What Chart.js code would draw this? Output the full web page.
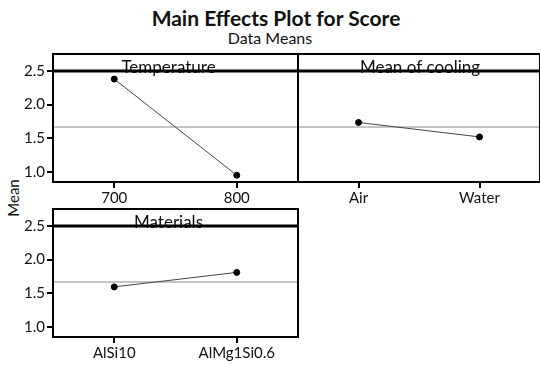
<!DOCTYPE html>
<html>
<head>
<meta charset="utf-8">
<script src="https://cdn.jsdelivr.net/npm/chart.js@4.4.1/dist/chart.umd.min.js"></script>
<style>
  body { margin: 0; background: #fff; }
  #wrap { position: relative; width: 540px; height: 365px; overflow: hidden; font-family: Lato, "Open Sans", sans-serif; color: #111; }
  #wrap canvas { position: absolute; }
  .t1 { position: absolute; left: 0; width: 540px; text-align: center; top: 5px; font-size: 21px; font-weight: bold; padding-left: 12px; box-sizing: border-box; }
  .t2 { position: absolute; left: 0; width: 540px; text-align: center; top: 28px; font-size: 16px; }
  .ylab { position: absolute; left: 13px; top: 198px; font-size: 15px; transform: translate(-50%, -50%) rotate(-90deg); }
</style>
</head>
<body>
<div id="wrap">
  <div class="t1">Main Effects Plot for Score</div>
  <div class="t2">Data Means</div>
  <div class="ylab">Mean</div>
  <canvas id="c1" width="300" height="160" style="left:0;top:50px"></canvas>
  <canvas id="c2" width="244" height="160" style="left:296px;top:50px"></canvas>
  <canvas id="c3" width="300" height="160" style="left:0;top:205px"></canvas>
</div>
<script>
// factor levels and their data means
const tempLevels = ["700", "800"];
const tempMeans = [2.38, 0.95];
const coolLevels = ["Air", "Water"];
const coolMeans = [1.735, 1.52];
const matLevels = ["AlSi10", "AlMg1Si0.6"];
const matMeans = [1.595, 1.81];
const grandMean = 1.675;
const yTicks = [1.0, 1.5, 2.0, 2.5];

const FONT = "Lato, 'Open Sans', sans-serif";

// draws the panel box, the strip header and the grand-mean reference line
const panelPlugin = {
  id: "panel",
  beforeDatasetsDraw(chart, args, opts) {
    const a = chart.chartArea;
    const ctx = chart.ctx;
    const y = chart.scales.y.getPixelForValue(grandMean);
    ctx.save();
    ctx.strokeStyle = "#8a8a8a";
    ctx.lineWidth = 1;
    ctx.beginPath();
    ctx.moveTo(a.left, y + 0.5);
    ctx.lineTo(a.right, y + 0.5);
    ctx.stroke();
    ctx.restore();
  },
  afterDraw(chart, args, opts) {
    const a = chart.chartArea;
    const ctx = chart.ctx;
    const top = a.top - 17;
    ctx.save();
    ctx.fillStyle = "#111";
    ctx.font = "17px " + FONT;
    ctx.textAlign = "center";
    ctx.textBaseline = "alphabetic";
    ctx.fillText(opts.label, (a.left + a.right) / 2 + (opts.dx || 0), a.top + 2);
    ctx.strokeStyle = "#000";
    ctx.lineWidth = 2;
    ctx.strokeRect(a.left, top, a.right - a.left, a.bottom - top);
    ctx.lineWidth = 3;
    ctx.beginPath();
    ctx.moveTo(a.left, a.top);
    ctx.lineTo(a.right, a.top);
    ctx.stroke();
    ctx.restore();
  }
};

function makePanel(id, levels, means, label, dx, showY, pad) {
  return new Chart(document.getElementById(id), {
    type: "line",
    data: {
      labels: levels,
      datasets: [{
        data: means,
        borderColor: "#444",
        borderWidth: 1,
        pointRadius: 3,
        pointBackgroundColor: "#000",
        pointBorderColor: "#000",
        tension: 0
      }]
    },
    options: {
      responsive: false,
      animation: false,
      layout: { padding: pad, autoPadding: false },
      plugins: {
        legend: { display: false },
        tooltip: { enabled: false },
        panel: { label: label, dx: dx }
      },
      scales: {
        x: {
          type: "category",
          offset: true,
          border: { display: false },
          grid: { drawOnChartArea: false, drawTicks: true, tickLength: 6, color: "#000", lineWidth: 2 },
          ticks: { color: "#111", font: { family: FONT, size: 15 }, padding: 1, maxRotation: 0 },
          afterFit(s) { s.height = 28; }
        },
        y: {
          display: showY,
          min: 0.85,
          max: 2.5,
          afterBuildTicks(s) { s.ticks = yTicks.map(v => ({ value: v })); },
          border: { display: false },
          grid: { drawOnChartArea: false, drawTicks: true, tickLength: 6, color: "#000", lineWidth: 2 },
          ticks: {
            color: "#111",
            font: { family: FONT, size: 15 },
            padding: 2,
            callback: v => v.toFixed(1)
          },
          afterFit(s) { s.width = showY ? 53 : 0; }
        }
      }
    },
    plugins: [panelPlugin]
  });
}

makePanel("c1", tempLevels, tempMeans, "Temperature", -7, true, { top: 21, left: 0, right: 2, bottom: 0 });
makePanel("c2", coolLevels, coolMeans, "Mean of cooling", 1, false, { top: 21, left: 2, right: 0, bottom: 0 });
makePanel("c3", matLevels, matMeans, "Materials", -7, true, { top: 21, left: 0, right: 2, bottom: 0 });
</script>
</body>
</html>
